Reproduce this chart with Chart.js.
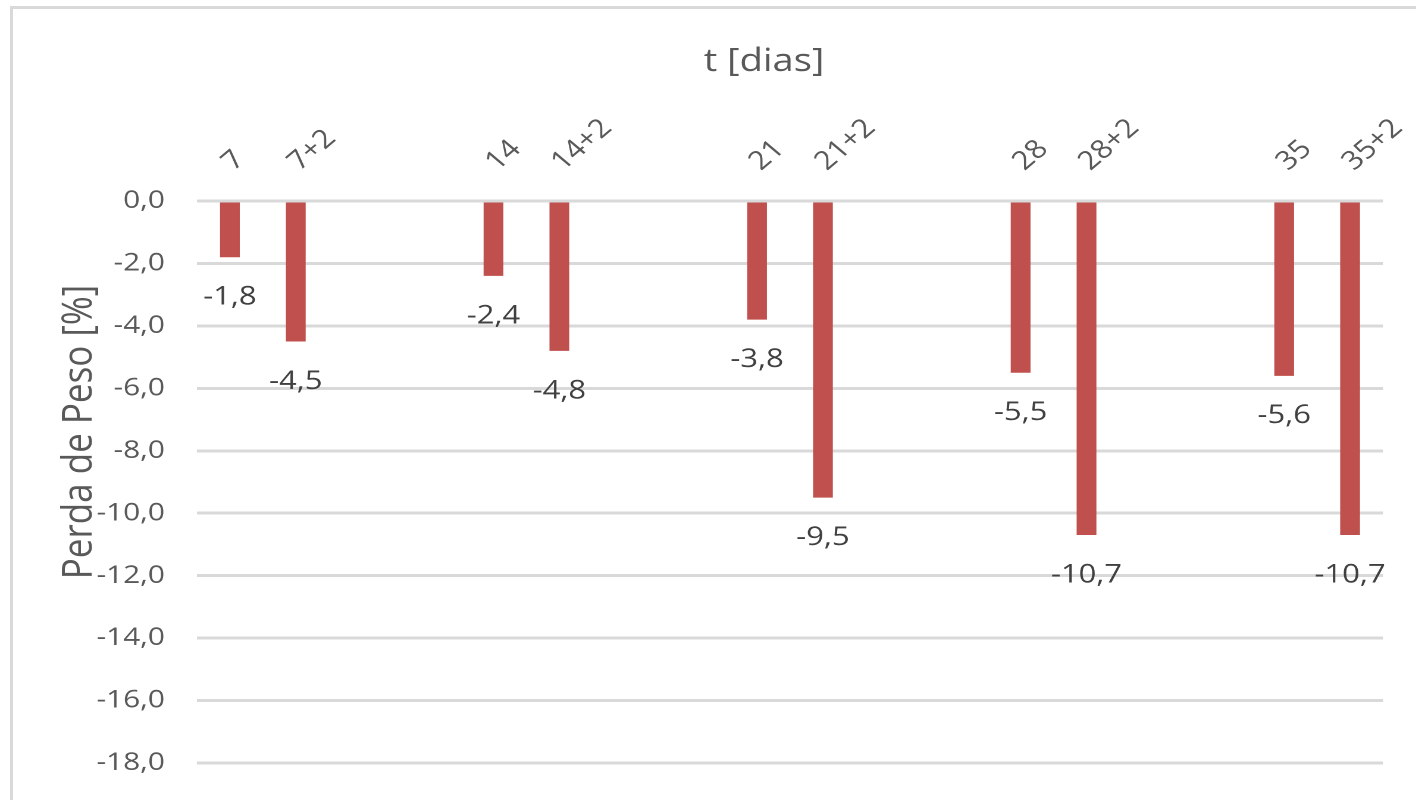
<!DOCTYPE html>
<html>
<head>
<meta charset="utf-8">
<script src="https://cdn.jsdelivr.net/npm/chart.js@4.4.1/dist/chart.umd.min.js"></script>
<style>
  html, body { margin: 0; padding: 0; background: #fff; overflow: hidden; width: 1416px; height: 800px; }
  #frame { position: absolute; left: 10px; top: 6px; width: 1600px; height: 1000px; border: 3px solid #d9d9d9; box-sizing: border-box; }
  /* the chart is laid out narrower and widened horizontally */
  #wrap { position: absolute; left: 0; top: 0; width: 1190px; height: 860px; transform: scaleX(1.19); transform-origin: 0 0; }
</style>
</head>
<body>
<div id="frame"></div>
<div id="wrap"><canvas id="chart" width="1190" height="860"></canvas></div>
<script>
// Sampling times (days); empty strings are spacer slots between the pairs
const categories = ['7', '7+2', '', '', '14', '14+2', '', '', '21', '21+2', '', '', '28', '28+2', '', '', '35', '35+2'];
// Weight loss [%] per slot (null = spacer)
const perdaPeso = [-1.8, -4.5, null, null, -2.4, -4.8, null, null, -3.8, -9.5, null, null, -5.5, -10.7, null, null, -5.6, -10.7];
// Value axis ticks
const yMin = -20;
const yMax = 0;
const yStep = 2;

const xTitle = 't [dias]';
const yTitle = 'Perda de Peso [%]';

const FONT = "'Open Sans', 'DejaVu Sans', sans-serif";
const fmt = v => v.toFixed(1).replace('.', ',');

// Value labels under each bar end
const valueLabels = {
  id: 'valueLabels',
  afterDatasetsDraw(chart) {
    const ctx = chart.ctx;
    const meta = chart.getDatasetMeta(0);
    const yScale = chart.scales.y;
    ctx.save();
    ctx.font = '26px ' + FONT;
    ctx.fillStyle = '#404040';
    ctx.textAlign = 'center';
    ctx.textBaseline = 'middle';
    meta.data.forEach((bar, i) => {
      const v = perdaPeso[i];
      if (v === null) return;
      ctx.fillText(fmt(v), bar.x, yScale.getPixelForValue(v) + 40);
    });
    ctx.restore();
  }
};

// Axis titles
const axisTitles = {
  id: 'axisTitles',
  afterDraw(chart) {
    const ctx = chart.ctx;
    ctx.save();
    ctx.fillStyle = '#595959';
    ctx.textAlign = 'center';
    ctx.textBaseline = 'middle';
    ctx.font = '32px ' + FONT;
    ctx.fillText(xTitle, 642, 62);
    ctx.font = '35px ' + FONT;
    ctx.translate(67, 432);
    ctx.rotate(-Math.PI / 2);
    ctx.fillText(yTitle, 0, 0);
    ctx.restore();
  }
};

new Chart(document.getElementById('chart'), {
  type: 'bar',
  data: {
    labels: categories,
    datasets: [{
      data: perdaPeso,
      backgroundColor: '#C0504D',
      borderWidth: 0,
      categoryPercentage: 1,
      barPercentage: 0.3
    }]
  },
  options: {
    responsive: false,
    animation: false,
    devicePixelRatio: 2,
    layout: { padding: { left: 0, top: 0, right: 27.8, bottom: 34.6 } },
    plugins: { legend: { display: false }, tooltip: { enabled: false } },
    scales: {
      x: {
        position: 'top',
        grid: { display: false },
        border: { display: false },
        ticks: {
          autoSkip: false,
          minRotation: 45,
          maxRotation: 45,
          padding: 16,
          labelOffset: 20,
          color: '#595959',
          font: { family: FONT, size: 26 }
        },
        afterFit(s) { s.height = 201; s.paddingLeft = 0; s.paddingRight = 0; }
      },
      y: {
        min: yMin,
        max: yMax,
        grid: { color: '#d9d9d9', lineWidth: 3, drawTicks: false },
        border: { display: false },
        ticks: {
          stepSize: yStep,
          padding: 27,
          color: '#595959',
          font: { family: FONT, size: 25 },
          callback: v => fmt(v)
        },
        afterFit(s) { s.width = 165.5; s.paddingTop = 0; s.paddingBottom = 0; }
      }
    }
  },
  plugins: [valueLabels, axisTitles]
});
</script>
</body>
</html>
